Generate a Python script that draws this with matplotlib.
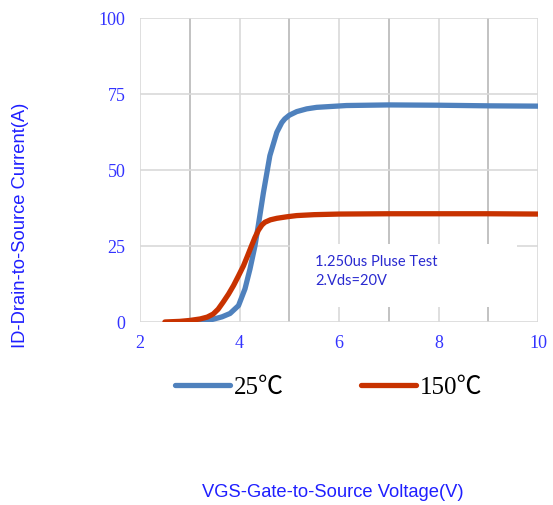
import matplotlib
matplotlib.use("Agg")
import matplotlib.pyplot as plt
from matplotlib.patches import Rectangle
from matplotlib.ticker import MultipleLocator

# transfer characteristics
vgs_25 = [3.05, 3.3, 3.47, 3.65, 3.81, 3.98, 4.11, 4.21, 4.31, 4.38, 4.48, 4.61, 4.75, 4.85, 4.91,
          5.0, 5.15, 5.35, 5.55, 6.15, 7.0, 8.0, 9.0, 10.0]
id_25 = [0.0, 0.4, 0.9, 1.7, 2.8, 5.4, 10.9, 17.4, 25.0, 32.0, 42.5, 54.7, 62.4, 65.6, 66.8,
         68.0, 69.2, 70.1, 70.6, 71.2, 71.4, 71.3, 71.1, 71.0]

vgs_150 = [2.5, 2.8, 3.0, 3.21, 3.35, 3.47, 3.57, 3.67, 3.78, 3.88, 3.98, 4.08, 4.16, 4.24, 4.31,
           4.38, 4.45, 4.51, 4.62, 4.75, 4.95, 5.15, 5.5, 6.0, 7.0, 8.0, 9.0, 10.0]
id_150 = [0.0, 0.2, 0.5, 1.0, 1.6, 2.6, 4.2, 6.5, 9.2, 12.0, 15.2, 18.5, 21.7, 25.0, 27.8,
          30.2, 31.9, 32.8, 33.6, 34.1, 34.6, 35.0, 35.3, 35.5, 35.6, 35.6, 35.6, 35.5]

x_ticks = [2, 4, 6, 8, 10]
y_ticks = [0, 25, 50, 75, 100]
notes = ["1.250us Pluse Test", "2.Vds=20V"]

fig = plt.figure(figsize=(5.53, 5.06), dpi=100)
ax = fig.add_axes([0.2532, 0.3617, 0.7197, 0.6008])

ax.set_xlim(2, 10)
ax.set_ylim(0, 100)
ax.set_xticks(x_ticks)
ax.set_yticks(y_ticks)
ax.xaxis.set_minor_locator(MultipleLocator(1))

ax.grid(True, which="major", color="#d9d9d9", linewidth=1.2, zorder=0)
ax.grid(True, which="minor", axis="x", color="#b8b8b8", linewidth=1.2, zorder=0)
ax.set_axisbelow(True)
for s in ax.spines.values():
    s.set_visible(False)

ax.tick_params(which="both", length=0)
ax.tick_params(axis="y", pad=10.5)
ax.tick_params(axis="x", pad=9)
for lab in ax.get_xticklabels() + ax.get_yticklabels():
    lab.set_fontfamily("Liberation Serif")
    lab.set_fontsize(13)
    lab.set_color("#3333ff")

# white note box hides the grid behind the test conditions
ax.add_patch(Rectangle((5.02, 5.0), 4.56, 20.5, facecolor="white", edgecolor="none", zorder=1))
ax.text(5.52, 20.2, notes[0], fontsize=10.5, family="Lato", color="#2a2ad0", va="center", zorder=2)
ax.text(5.52, 13.9, notes[1], fontsize=10.5, family="Lato", color="#2a2ad0", va="center", zorder=2)

l1, = ax.plot(vgs_25, id_25, color="#4f81bd", linewidth=3.8, solid_capstyle="round",
              solid_joinstyle="round", zorder=3)
l2, = ax.plot(vgs_150, id_150, color="#c83200", linewidth=3.8, solid_capstyle="round",
              solid_joinstyle="round", zorder=3)

fig.legend([l1, l2], ["25\u2103", "150\u2103"], loc="center", bbox_to_anchor=(0.594, 0.233),
           ncol=2, frameon=False, handlelength=2.2, handletextpad=0.15, columnspacing=3.1,
           prop={"family": ["Liberation Serif", "Noto Sans CJK SC"], "size": 18})

fig.text(0.602, 0.027, "VGS-Gate-to-Source Voltage(V)", family="Liberation Sans",
         fontsize=13.2, color="#1f1fff", ha="center", va="center")
fig.text(0.037, 0.555, "ID-Drain-to-Source Current(A)", family="Liberation Sans",
         fontsize=13.2, color="#1f1fff", ha="center", va="center", rotation=90)

fig.savefig("out.png", dpi=100)
